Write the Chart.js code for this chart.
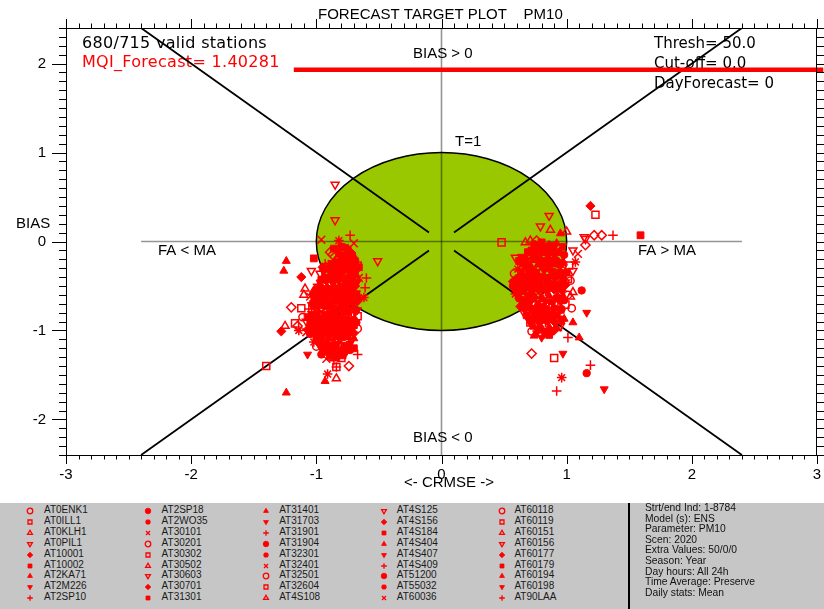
<!DOCTYPE html>
<html>
<head>
<meta charset="utf-8">
<script src="https://cdn.jsdelivr.net/npm/chart.js@4.4.1/dist/chart.umd.min.js"></script>
<style>
  html, body { margin: 0; padding: 0; background: #fff; width: 824px; height: 609px; overflow: hidden; }
  #wrap { position: relative; width: 824px; height: 609px; }
  #plot { position: absolute; left: 0; top: 0; }
  #panel { position: absolute; left: 0; top: 503px; width: 824px; height: 106px; background: #c6c6c6;
           font-family: "Liberation Sans", Arial, sans-serif; }
  .entry { position: absolute; font-size: 10px; line-height: 12px; color: #1a1a1a; white-space: nowrap; }
  .mark { position: absolute; }
  #divider { position: absolute; left: 628px; top: 0; width: 2px; height: 106px; background: #000; }
  .info { position: absolute; left: 645px; font-size: 10.3px; line-height: 12px; color: #111; white-space: nowrap; }
</style>
</head>
<body>
<div id="wrap">
  <canvas id="plot" width="824" height="503"></canvas>
  <div id="panel"><div id="divider"></div></div>
</div>
<script>
// ---- axis ticks ----
const xTickValues = [-3, -2, -1, 0, 1, 2, 3];
const yTickValues = [-2, -1, 0, 1, 2];

// ---- target geometry (CRMSE / BIAS units) ----
const targetRadius = 1;
const diagonalSegments = [
  [[-2.4, 2.4], [-0.1, 0.1]],
  [[0.1, 0.1], [2.4, 2.4]],
  [[-2.4, -2.4], [-0.1, -0.1]],
  [[0.1, -0.1], [2.4, -2.4]]
];
const biasZeroLine = [[-2.4, 0], [2.4, 0]];
const crmseZeroLine = [[0, -2.4], [0, 2.4]];
const mqiLine = [[-1.18, 1.93], [3.05, 1.93]];

// ---- texts ----
const plotTitle = 'FORECAST TARGET PLOT    PM10';
const validStations = '680/715 valid stations';
const mqiLabel = 'MQI_Forecast= 1.40281';
const settingsLines = ['Thresh= 50.0', 'Cut-off= 0.0', 'DayForecast= 0'];
const infoLines = ['Strt/end Ind: 1-8784', 'Model (s): ENS', 'Parameter: PM10', 'Scen: 2020',
  'Extra Values: 50/0/0', 'Season: Year', 'Day hours: All 24h', 'Time Average: Preserve', 'Daily stats: Mean'];
const stationNames = ['AT0ENK1','AT0ILL1','AT0KLH1','AT0PIL1','AT10001','AT10002','AT2KA71','AT2M226','AT2SP10',
  'AT2SP18','AT2WO35','AT30101','AT30201','AT30302','AT30502','AT30603','AT30701','AT31301',
  'AT31401','AT31703','AT31901','AT31904','AT32301','AT32401','AT32501','AT32604','AT4S108',
  'AT4S125','AT4S156','AT4S184','AT4S404','AT4S407','AT4S409','AT51200','AT55032','AT60036',
  'AT60118','AT60119','AT60151','AT60156','AT60177','AT60179','AT60194','AT60198','AT90LAA'];
const legendSymbolCycle = ['openCircle','openSquare','openTriUp','openTriDown','fillDiamond','fillSquare',
  'fillTriUp','fillTriDown','plusMark','fillCircle','starMark','crossMark'];

// ---- station points [CRMSE, BIAS] grouped by marker ----
const openCircle = [[-0.93,-0.34],[-0.84,-0.49],[-0.85,-0.65],[-0.91,-0.77],[-1.03,-0.92],[-0.67,-0.98],[-1.00,-1.18],
  [0.94,-0.17],[0.58,-0.36],[1.03,-0.44],[1.01,-0.60],[0.71,-0.80],[0.72,-1.01],[-1.11,-0.85],[1.04,-0.75]];
const openSquare = [[-0.67,-0.27],[-0.94,-0.50],[-0.95,-0.61],[-1.01,-0.78],[-0.67,-0.84],[-0.77,-0.97],[-0.77,-1.13],[-0.80,-1.31],
  [0.82,-0.16],[0.91,-0.31],[0.93,-0.43],[0.89,-0.59],[0.99,-0.71],[0.89,-0.93],
  [-1.17,-0.92],[-1.40,-1.40],[-0.84,-1.41],[-1.12,-0.75],[1.23,0.30],[0.48,-0.01],[0.90,-1.31],[0.93,-0.96],
  [0.71,-0.91],[0.85,-0.29],[1.01,-0.42],[1.02,-0.27]];
const openTriUp = [[-1.25,-0.95],[-1.09,-0.53],[-0.84,-1.54],[-1.10,-0.60],[0.87,0.13],[1.00,0.11],[0.67,-0.01],
  [0.71,0.01],[1.05,-0.57],[1.03,-0.62]];
const openTriDown = [[-0.97,-0.36],[-0.89,-0.47],[-0.90,-0.63],[-0.96,-0.75],[-1.08,-0.90],[-0.72,-1.00],[-0.72,-1.11],
  [0.88,-0.14],[0.97,-0.29],[0.99,-0.46],[0.95,-0.57],[0.65,-0.78],[0.95,-0.95],
  [-0.85,0.64],[-0.85,0.24],[-0.51,-0.22],[-1.04,-0.33],[0.86,0.29],[0.79,0.17],[1.14,0.05],[0.59,-0.18],
  [1.05,-0.10],[1.15,0.03],[1.05,-0.33]];
const fillDiamond = [[-0.72,-0.13],[-0.95,-0.29],[-0.78,-0.33],[-0.86,-0.44],[-0.69,-0.50],[-0.83,-0.54],[-0.70,-0.61],
  [-0.89,-0.70],[-0.76,-0.78],[-0.97,-0.86],[-0.88,-0.93],[-1.07,-0.99],[-0.95,-1.03],[-0.70,-1.03],[-0.85,-1.19],[-0.91,-1.25],
  [0.86,-0.04],[0.84,-0.11],[0.68,-0.24],[0.97,-0.24],[0.76,-0.37],[0.57,-0.45],[0.69,-0.49],[0.99,-0.49],
  [0.74,-0.63],[0.63,-0.73],[0.89,-0.81],[0.87,-0.86],[0.90,-1.00],
  [-1.12,-0.40],[-1.28,-1.01],[1.19,0.40],
  [-0.94,-0.32],[-0.89,-0.33],[-0.84,-0.31],[-0.79,-0.32],[-0.74,-0.31],[-0.69,-0.32],
  [-1.02,-0.67],[-0.97,-0.66],[-0.92,-0.67],[-0.87,-0.66],[-0.82,-0.67],[-0.77,-0.66],[-0.72,-0.67],[-0.67,-0.67],
  [-1.03,-1.01],[-0.98,-1.02],[-0.93,-1.01],[-0.88,-1.02],[-0.83,-1.01],[-0.78,-1.02],[-0.73,-1.01],
  [0.67,-0.20],[0.73,-0.19],[0.79,-0.20],[0.85,-0.19],[0.91,-0.20],
  [0.60,-0.55],[0.66,-0.54],[0.72,-0.55],[0.78,-0.54],[0.84,-0.55],[0.90,-0.54],[0.96,-0.55],
  [0.72,-0.89],[0.78,-0.90],[0.84,-0.89],[0.90,-0.90],[0.96,-0.89]];
const fillSquare = [[-0.77,-0.16],[-0.74,-0.23],[-0.82,-0.37],[-0.96,-0.43],[-0.74,-0.48],[-0.93,-0.58],[-0.75,-0.64],
  [-0.99,-0.69],[-0.81,-0.76],[-1.07,-0.85],[-0.93,-0.91],[-0.73,-0.89],[-1.00,-1.06],[-0.80,-1.04],[-0.90,-1.17],[-0.70,-1.20],
  [0.80,-0.01],[0.72,-0.10],[0.62,-0.22],[0.86,-0.25],[0.70,-0.35],[0.94,-0.38],[0.63,-0.52],[0.87,-0.50],
  [0.68,-0.66],[0.92,-0.64],[0.83,-0.79],[0.75,-0.85],[0.84,-1.02],[0.86,-1.05],
  [-1.02,-0.19],[-0.66,-0.29],[-0.77,-0.07],[1.59,0.07],
  [-0.86,-0.08],[-0.80,-0.06],[-0.75,-0.09],
  [-0.88,-0.25],[-0.83,-0.24],[-0.78,-0.25],[-0.73,-0.26],[-0.69,-0.25],
  [-1.02,-0.60],[-0.97,-0.59],[-0.92,-0.60],[-0.87,-0.59],[-0.82,-0.60],[-0.77,-0.59],[-0.72,-0.60],[-0.68,-0.60],
  [-1.05,-0.95],[-1.00,-0.94],[-0.95,-0.95],[-0.90,-0.94],[-0.85,-0.95],[-0.80,-0.94],[-0.75,-0.95],[-0.70,-0.94],
  [-0.89,-1.29],[-0.84,-1.30],[-0.79,-1.28],
  [0.69,-0.12],[0.75,-0.13],[0.81,-0.12],[0.87,-0.12],[0.93,-0.12],
  [0.60,-0.47],[0.66,-0.48],[0.72,-0.47],[0.78,-0.48],[0.84,-0.47],[0.90,-0.48],[0.96,-0.47],
  [0.68,-0.83],[0.74,-0.82],[0.80,-0.83],[0.86,-0.82],[0.92,-0.83]];
const fillTriUp = [[-0.85,-0.22],[-0.86,-0.30],[-0.72,-0.36],[-0.75,-0.40],[-1.03,-0.57],[-0.73,-0.55],[-0.66,-0.63],
  [-0.79,-0.71],[-0.71,-0.75],[-0.87,-0.82],[-0.83,-0.90],[-0.97,-1.00],[-0.90,-1.05],[-0.97,-1.11],[-0.80,-1.21],[-0.81,-1.26],
  [0.92,-0.02],[0.96,-0.07],[0.74,-0.21],[0.67,-0.29],[0.82,-0.39],[0.69,-0.46],[0.75,-0.51],[0.65,-0.57],
  [0.80,-0.65],[0.75,-0.74],[0.95,-0.78],[0.98,-0.87],[0.74,-1.06],
  [-1.24,-0.22],[-1.26,-0.33],[-0.93,-1.57],[-1.24,-1.70],[0.95,0.09],[1.10,-1.08],[1.05,-0.91],
  [-0.94,-0.39],[-0.89,-0.38],[-0.84,-0.40],[-0.79,-0.38],[-0.73,-0.39],[-0.68,-0.38],
  [-1.01,-0.74],[-0.96,-0.73],[-0.91,-0.74],[-0.86,-0.73],[-0.81,-0.74],[-0.76,-0.73],[-0.70,-0.74],
  [-1.00,-1.09],[-0.95,-1.08],[-0.90,-1.09],[-0.85,-1.08],[-0.80,-1.09],[-0.75,-1.08],[-0.70,-1.09],
  [0.65,-0.26],[0.71,-0.27],[0.77,-0.26],[0.83,-0.27],[0.89,-0.26],[0.95,-0.27],
  [0.62,-0.61],[0.68,-0.62],[0.74,-0.61],[0.80,-0.62],[0.86,-0.61],[0.92,-0.62],[0.97,-0.61],
  [0.74,-0.96],[0.80,-0.97],[0.86,-0.96],[0.92,-0.97]];
const fillTriDown = [[-0.79,-0.20],[-0.80,-0.28],[-0.68,-0.34],[-0.71,-0.43],[-0.98,-0.55],[-0.68,-0.58],[-1.04,-0.71],
  [-0.74,-0.69],[-0.67,-0.77],[-0.82,-0.85],[-0.78,-0.92],[-0.92,-0.98],[-0.85,-1.07],[-0.92,-1.14],[-0.75,-1.18],[-0.76,-1.24],
  [0.97,-0.05],[0.64,-0.17],[0.80,-0.23],[0.73,-0.32],[0.88,-0.36],[0.75,-0.44],[0.81,-0.53],[0.71,-0.60],
  [0.86,-0.67],[0.81,-0.72],[0.69,-0.87],[0.71,-0.92],[0.80,-1.08],
  [-1.07,-1.27],[1.16,-0.80],[0.97,-1.26],[1.30,-1.66],
  [-0.97,-0.46],[-0.92,-0.45],[-0.87,-0.47],[-0.82,-0.45],[-0.77,-0.46],[-0.72,-0.46],[-0.67,-0.45],
  [-1.04,-0.81],[-0.99,-0.80],[-0.94,-0.81],[-0.89,-0.80],[-0.84,-0.81],[-0.79,-0.80],[-0.74,-0.81],[-0.69,-0.80],
  [-0.98,-1.16],[-0.93,-1.15],[-0.88,-1.16],[-0.83,-1.15],[-0.78,-1.16],[-0.73,-1.15],
  [0.64,-0.34],[0.70,-0.33],[0.76,-0.34],[0.82,-0.33],[0.88,-0.33],[0.94,-0.34],
  [0.65,-0.69],[0.71,-0.68],[0.77,-0.69],[0.83,-0.68],[0.89,-0.69],[0.95,-0.68],
  [0.76,-1.03],[0.82,-1.04],[0.88,-1.03]];
const plusMark = [[-0.71,-0.29],[-0.99,-0.48],[-1.00,-0.64],[-1.06,-0.76],[-0.72,-0.86],[-0.82,-0.99],[-0.82,-1.10],[-0.86,-1.34],
  [0.76,-0.18],[0.85,-0.28],[0.87,-0.45],[0.83,-0.56],[0.93,-0.73],[0.83,-0.91],
  [-0.73,0.07],[-0.93,-0.25],[-0.60,-0.41],[-0.61,-0.52],[-0.67,-1.27],[-0.84,-1.41],[1.37,0.07],[1.19,-1.39],
  [0.92,-1.68],[1.01,-1.08]];
const fillCircle = [[-0.82,-0.14],[-0.69,-0.21],[-0.87,-0.35],[-0.91,-0.41],[-0.79,-0.51],[-0.88,-0.56],[-0.80,-0.62],
  [-0.94,-0.72],[-0.86,-0.79],[-1.02,-0.83],[-0.98,-0.89],[-0.68,-0.91],[-1.05,-1.04],[-0.75,-1.06],[-0.95,-1.20],[-0.96,-1.27],
  [0.74,-0.03],[0.78,-0.08],[0.98,-0.15],[0.92,-0.22],[0.64,-0.38],[1.00,-0.35],[0.57,-0.50],[0.93,-0.52],
  [0.62,-0.64],[0.98,-0.66],[0.77,-0.77],[0.81,-0.88],[0.78,-0.99],
  [1.12,-0.55],[1.16,-1.48],
  [-0.80,-0.18],[-0.75,-0.19],[-0.71,-0.17],
  [-1.00,-0.53],[-0.96,-0.52],[-0.91,-0.53],[-0.86,-0.52],[-0.81,-0.53],[-0.76,-0.52],[-0.71,-0.53],
  [-1.05,-0.88],[-1.00,-0.87],[-0.95,-0.88],[-0.90,-0.87],[-0.85,-0.88],[-0.80,-0.87],[-0.75,-0.88],[-0.70,-0.88],
  [-0.93,-1.22],[-0.88,-1.23],[-0.83,-1.22],[-0.78,-1.23],[-0.73,-1.22],
  [0.77,-0.05],[0.83,-0.06],[0.89,-0.05],
  [0.61,-0.41],[0.67,-0.40],[0.73,-0.41],[0.79,-0.40],[0.85,-0.41],[0.91,-0.40],[0.97,-0.41],
  [0.66,-0.75],[0.72,-0.76],[0.78,-0.75],[0.84,-0.76],[0.90,-0.75],[0.96,-0.76]];
const starMark = [[-0.90,-0.27],[-0.81,-0.42],[-0.78,-0.57],[-0.84,-0.68],[-0.92,-0.84],[-1.02,-0.97],[-1.02,-1.13],[-0.86,-1.28],
  [0.90,-0.09],[0.61,-0.31],[0.63,-0.43],[0.59,-0.59],[0.69,-0.71],[0.93,-0.84],
  [-0.82,0.01],[-0.62,-0.63],[-1.14,-1.00],[-0.91,-1.49],[1.07,-0.23],[0.96,-1.53]];
const crossMark = [[-0.76,-0.26],[-0.66,-0.41],[-1.05,-0.62],[-0.69,-0.72],[-0.77,-0.83],[-0.87,-0.96],[-0.87,-1.12],[-0.92,-1.32],
  [0.70,-0.15],[0.79,-0.30],[0.81,-0.42],[0.77,-0.58],[0.87,-0.70],[0.77,-0.94],
  [-0.96,0.02],[-0.70,-0.02],[-1.08,-1.02],[1.09,-0.14]];
const openDiamond = [[-0.87,-0.15],[-0.89,-0.12],[-1.20,-0.74],[-0.74,-1.40],[-1.15,-0.95],[1.22,0.07],[1.28,0.07],
  [0.76,0.01],[1.15,-0.04],[0.72,-1.26],[0.80,-1.04]];

// ---- marker styles ----
const RED = '#ff0000';
const markerStyles = {
  openCircle:  { pointStyle: 'circle',   rotation: 0,   filled: false, radius: 3.7 },
  openSquare:  { pointStyle: 'rect',     rotation: 0,   filled: false, radius: 5 },
  openTriUp:   { pointStyle: 'triangle', rotation: 0,   filled: false, radius: 4.6 },
  openTriDown: { pointStyle: 'triangle', rotation: 180, filled: false, radius: 4.6 },
  fillDiamond: { pointStyle: 'rectRot',  rotation: 0,   filled: true,  radius: 4.6 },
  fillSquare:  { pointStyle: 'rect',     rotation: 0,   filled: true,  radius: 4.8 },
  fillTriUp:   { pointStyle: 'triangle', rotation: 0,   filled: true,  radius: 4.6 },
  fillTriDown: { pointStyle: 'triangle', rotation: 180, filled: true,  radius: 4.6 },
  plusMark:    { pointStyle: 'cross',    rotation: 0,   filled: false, radius: 4.8 },
  fillCircle:  { pointStyle: 'circle',   rotation: 0,   filled: true,  radius: 3.7 },
  starMark:    { pointStyle: 'star',     rotation: 0,   filled: false, radius: 4.8 },
  crossMark:   { pointStyle: 'crossRot', rotation: 0,   filled: false, radius: 5.5 },
  openDiamond: { pointStyle: 'rectRot',  rotation: 0,   filled: false, radius: 4.6 }
};

const markerSeries = [
  ['openCircle', openCircle], ['openSquare', openSquare], ['openTriUp', openTriUp], ['openTriDown', openTriDown],
  ['fillDiamond', fillDiamond], ['fillSquare', fillSquare], ['fillTriUp', fillTriUp], ['fillTriDown', fillTriDown],
  ['plusMark', plusMark], ['fillCircle', fillCircle], ['starMark', starMark], ['crossMark', crossMark],
  ['openDiamond', openDiamond]
];

const toXY = pts => pts.map(([x, y]) => ({ x, y }));

const pointSets = markerSeries.map(([key, pts]) => {
  const s = markerStyles[key];
  return {
    label: key,
    data: toXY(pts),
    pointStyle: s.pointStyle,
    rotation: s.rotation,
    pointRadius: s.radius,
    pointBackgroundColor: s.filled ? RED : 'rgba(0,0,0,0)',
    pointBorderColor: RED,
    pointBorderWidth: s.filled ? 1 : 1.5,
    showLine: false,
    order: 1
  };
});

const lineSet = (pts, color, width, order, extra) => Object.assign({
  data: toXY(pts), showLine: true, borderColor: color, borderWidth: width,
  pointRadius: 0, pointHoverRadius: 0, fill: false, order
}, extra || {});

const lineSets = [
  lineSet(mqiLine, RED, 4.5, 0, { clip: false }),
  ...diagonalSegments.map(seg => lineSet(seg, '#000', 1.8, 5)),
  lineSet(biasZeroLine, 'rgba(0,0,0,0.42)', 1.6, 6),
  lineSet(crmseZeroLine, 'rgba(0,0,0,0.42)', 1.6, 6)
];

// target circle, labels, frame and minor/major ticks
const targetPlugin = {
  id: 'targetDecor',
  beforeDatasetsDraw(chart) {
    const { ctx, scales: { x, y } } = chart;
    const cx = x.getPixelForValue(0), cy = y.getPixelForValue(0);
    const rx = x.getPixelForValue(targetRadius) - cx;
    const ry = cy - y.getPixelForValue(targetRadius);
    ctx.save();
    ctx.beginPath();
    ctx.ellipse(cx, cy, rx, ry, 0, 0, Math.PI * 2);
    ctx.fillStyle = '#99c700';
    ctx.fill();
    ctx.lineWidth = 1.5;
    ctx.strokeStyle = '#000';
    ctx.stroke();

    const text = (s, px, py, font, color, spacing) => {
      ctx.font = font;
      ctx.fillStyle = color;
      ctx.textAlign = 'left';
      ctx.textBaseline = 'middle';
      ctx.letterSpacing = spacing || '0px';
      ctx.fillText(s, px, py);
    };
    const sans = '15px "Liberation Sans", Arial, sans-serif';
    const round = '16px "DejaVu Sans", sans-serif';
    const roundSmall = '15px "DejaVu Sans", sans-serif';
    text(plotTitle, 318, 15, sans, '#000');
    text(validStations, 82, 44, round, '#000', '0.3px');
    text(mqiLabel, 82, 63, round, RED, '0.3px');
    settingsLines.forEach((s, i) => text(s, 654, 44 + i * 20, roundSmall, '#000'));
    text('BIAS > 0', 413, 54, sans, '#000');
    text('T=1', 455, 142, sans, '#000');
    text('BIAS', 16, 224, sans, '#000');
    text('FA < MA', 158, 251, sans, '#000');
    text('FA > MA', 638, 251, sans, '#000');
    text('BIAS < 0', 413, 438, sans, '#000');
    text('<- CRMSE ->', 404, 483, sans, '#000');
    ctx.restore();
  },
  afterDraw(chart) {
    const { ctx, chartArea: ca, scales: { x, y } } = chart;
    ctx.save();
    ctx.strokeStyle = '#000';
    ctx.lineWidth = 1;
    ctx.strokeRect(ca.left + 0.5, ca.top + 0.5, ca.right - ca.left - 1, ca.bottom - ca.top);
    ctx.beginPath();
    for (let i = -30; i <= 30; i++) {
      const px = Math.round(x.getPixelForValue(i / 10)) + 0.5;
      const len = i % 10 === 0 ? 9 : 4.5;
      ctx.moveTo(px, ca.top); ctx.lineTo(px, ca.top - len);
      ctx.moveTo(px, ca.bottom); ctx.lineTo(px, ca.bottom + len);
    }
    for (let i = -24; i <= 24; i++) {
      const py = Math.round(y.getPixelForValue(i / 10)) + 0.5;
      const len = i % 10 === 0 ? 14 : 7;
      ctx.moveTo(ca.left, py); ctx.lineTo(ca.left - len, py);
      ctx.moveTo(ca.right, py); ctx.lineTo(ca.right + len, py);
    }
    ctx.stroke();
    ctx.restore();
  }
};

const tickFont = { family: '"Liberation Sans", Arial, sans-serif', size: 15 };

new Chart(document.getElementById('plot'), {
  type: 'scatter',
  data: { datasets: [...pointSets, ...lineSets] },
  options: {
    responsive: false,
    animation: false,
    events: [],
    layout: { padding: { top: 28, right: 6, left: 0, bottom: 0 } },
    plugins: { legend: { display: false }, tooltip: { enabled: false }, title: { display: false } },
    scales: {
      x: {
        type: 'linear', min: -3, max: 3,
        afterBuildTicks: s => { s.ticks = xTickValues.map(v => ({ value: v })); },
        afterFit: s => { s.height = 48; s.paddingLeft = 0; s.paddingRight = 0; },
        grid: { display: false, drawTicks: false },
        border: { display: false },
        ticks: { padding: 11, color: '#000', font: tickFont, callback: v => String(v), maxRotation: 0, autoSkip: false }
      },
      y: {
        type: 'linear', min: -2.4, max: 2.4,
        afterBuildTicks: s => { s.ticks = yTickValues.map(v => ({ value: v })); },
        afterFit: s => { s.width = 66; s.paddingTop = 0; s.paddingBottom = 0; },
        grid: { display: false, drawTicks: false },
        border: { display: false },
        ticks: { padding: 20, color: '#000', font: tickFont, callback: v => String(v), autoSkip: false }
      }
    }
  },
  plugins: [targetPlugin]
});

// ---- station legend and run information ----
const panel = document.getElementById('panel');
const drawMarker = (key, size, radius) => {
  const c = document.createElement('canvas');
  c.width = size; c.height = size;
  const g = c.getContext('2d');
  const s = markerStyles[key];
  g.fillStyle = s.filled ? RED : 'rgba(0,0,0,0)';
  g.strokeStyle = RED;
  g.lineWidth = s.filled ? 0.8 : 1.3;
  Chart.helpers.drawPoint(g, { pointStyle: s.pointStyle, rotation: s.rotation, radius, borderWidth: g.lineWidth },
    size / 2, size / 2);
  return c;
};
stationNames.forEach((name, i) => {
  const col = Math.floor(i / 9), row = i % 9;
  const cy = 7 + row * 10.9;
  const m = drawMarker(legendSymbolCycle[i % legendSymbolCycle.length], 10, 2.8);
  m.className = 'mark';
  m.style.left = (24.5 + col * 118) + 'px';
  m.style.top = (cy - 5 + 1) + 'px';
  panel.appendChild(m);
  const t = document.createElement('div');
  t.className = 'entry';
  t.textContent = name;
  t.style.left = (44 + col * 117.6) + 'px';
  t.style.top = (cy - 6) + 'px';
  panel.appendChild(t);
});
infoLines.forEach((s, i) => {
  const t = document.createElement('div');
  t.className = 'info';
  t.textContent = s;
  t.style.top = (5 + i * 10.6 - 6) + 'px';
  panel.appendChild(t);
});
</script>
</body>
</html>
